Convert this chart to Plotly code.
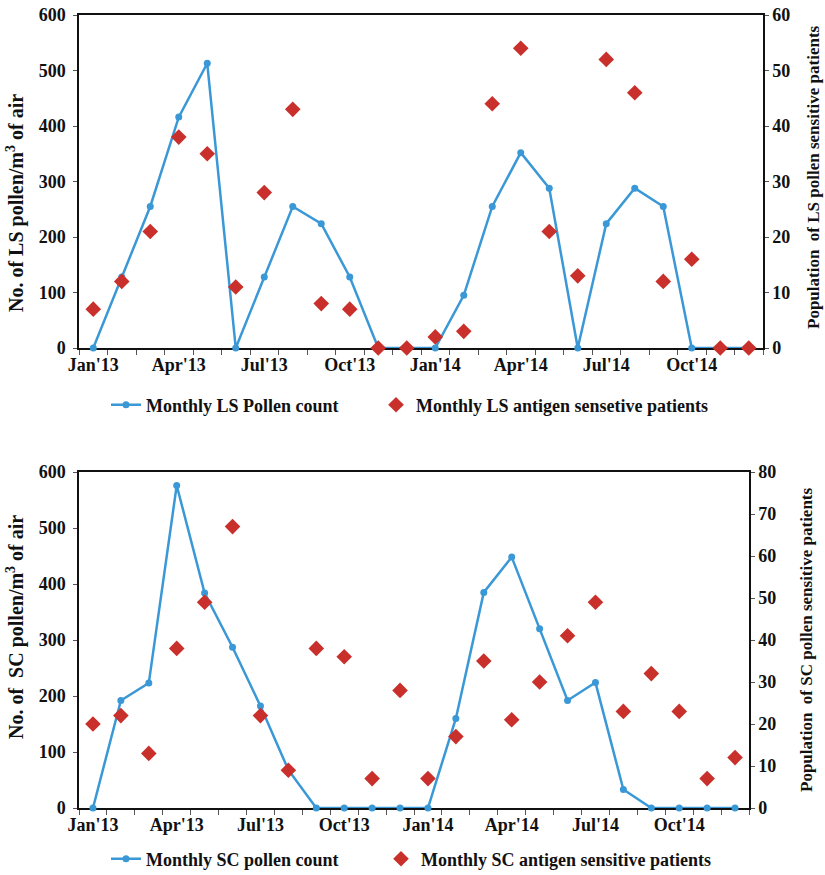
import plotly.graph_objects as go

# Monthly series, Jan 2013 - Dec 2014
months = ["Jan'13", "Feb'13", "Mar'13", "Apr'13", "May'13", "Jun'13",
          "Jul'13", "Aug'13", "Sep'13", "Oct'13", "Nov'13", "Dec'13",
          "Jan'14", "Feb'14", "Mar'14", "Apr'14", "May'14", "Jun'14",
          "Jul'14", "Aug'14", "Sep'14", "Oct'14", "Nov'14", "Dec'14"]

ls_pollen = [0, 128, 255, 416, 513, 0, 128, 255, 224, 128, 0, 0,
             0, 95, 255, 352, 288, 0, 224, 288, 255, 0, 0, 0]
ls_patients = [7, 12, 21, 38, 35, 11, 28, 43, 8, 7, 0, 0,
               2, 3, 44, 54, 21, 13, 52, 46, 12, 16, 0, 0]

sc_pollen = [0, 192, 223, 576, 384, 287, 182, 68, 0, 0, 0, 0,
             0, 160, 385, 448, 320, 192, 224, 33, 0, 0, 0, 0]
sc_patients = [20, 22, 13, 38, 49, 67, 22, 9, 38, 36, 7, 28,
               7, 17, 35, 21, 30, 41, 49, 23, 32, 23, 7, 12]

tick_idx = [0, 3, 6, 9, 12, 15, 18, 21]
tick_text = [months[i] for i in tick_idx]

W, H = 825, 875
BLUE = "#3a98d6"
RED = "#c9302c"
INK = "#111111"
FONT = "Liberation Serif"

x = list(range(len(months)))


def fx(px):
    return px / W


def fy(py):
    return 1 - py / H


fig = go.Figure()

fig.add_trace(go.Scatter(
    x=x, y=ls_pollen, name="Monthly LS Pollen count", mode="lines+markers",
    line=dict(color=BLUE, width=2.5), marker=dict(color=BLUE, size=7),
    cliponaxis=False, xaxis="x", yaxis="y", legend="legend"))
fig.add_trace(go.Scatter(
    x=x, y=ls_patients, name="Monthly LS antigen sensetive patients", mode="markers",
    marker=dict(color=RED, size=12, symbol="diamond"),
    cliponaxis=False, xaxis="x", yaxis="y2", legend="legend2"))
fig.add_trace(go.Scatter(
    x=x, y=sc_pollen, name="Monthly SC pollen count", mode="lines+markers",
    line=dict(color=BLUE, width=2.5), marker=dict(color=BLUE, size=7),
    cliponaxis=False, xaxis="x2", yaxis="y3", legend="legend3"))
fig.add_trace(go.Scatter(
    x=x, y=sc_patients, name="Monthly SC antigen sensitive patients", mode="markers",
    marker=dict(color=RED, size=12, symbol="diamond"),
    cliponaxis=False, xaxis="x2", yaxis="y4", legend="legend4"))

tick_font = dict(family=FONT, size=18, color=INK, weight="bold")
legend_font = dict(family=FONT, size=18, color=INK, weight="bold")

xcommon = dict(
    range=[-0.5, 23.5], tickmode="array", tickvals=tick_idx, ticktext=tick_text,
    ticks="", showgrid=False, zeroline=False, showline=True, linecolor=INK,
    linewidth=1.5, mirror=True, tickfont=tick_font, layer="below traces",
    minor=dict(tickmode="linear", tick0=-0.5, dtick=1, ticks="outside",
               ticklen=5, tickcolor="#555555", tickwidth=1, showgrid=False),
    fixedrange=True,
)
ycommon = dict(
    showgrid=False, zeroline=False, showline=True, linecolor=INK, linewidth=1.5,
    ticks="outside", ticklen=4, tickcolor="#555555", tickfont=tick_font,
    layer="below traces", fixedrange=True,
)

fig.update_layout(
    width=W, height=H,
    margin=dict(l=0, r=0, t=0, b=0, autoexpand=False),
    paper_bgcolor="white", plot_bgcolor="white",
    font=dict(family=FONT, color=INK),
    xaxis=dict(domain=[fx(79), fx(763)], anchor="y", **xcommon),
    xaxis2=dict(domain=[fx(79), fx(749)], anchor="y3", **xcommon),
    yaxis=dict(domain=[fy(348), fy(15)], anchor="x", range=[0, 600], dtick=100,
               ticklabelstandoff=4, **ycommon),
    yaxis2=dict(overlaying="y", anchor="x", side="right", range=[0, 60], dtick=10,
                **ycommon),
    yaxis3=dict(domain=[fy(808), fy(472)], anchor="x2", range=[0, 600], dtick=100,
                ticklabelstandoff=4, **ycommon),
    yaxis4=dict(overlaying="y3", anchor="x2", side="right", range=[0, 80], dtick=10,
                **ycommon),
    showlegend=True,
)

# one legend per entry so each key sits where it belongs under its panel
legend_spots = {"legend": (106, 405), "legend2": (376, 405),
                "legend3": (106, 859), "legend4": (381, 859)}
for key, (lx, ly) in legend_spots.items():
    fig.update_layout({key: dict(orientation="h", x=fx(lx), xanchor="left",
                                 y=fy(ly), yanchor="middle", font=legend_font,
                                 bgcolor="rgba(0,0,0,0)")})

# axis titles
axis_titles = [
    ("No. of LS pollen/m<sup>3</sup> of air", 15, 203, 20),
    ("Population &nbsp;of LS pollen sensitive patients", 813, 177, 17),
    ("No. of &nbsp;SC pollen/m<sup>3</sup> of air", 15, 627, 20),
    ("Population &nbsp;of SC pollen sensitive patients", 806, 640, 17),
]
for text, cx, cy, size in axis_titles:
    fig.add_annotation(
        text=text, x=fx(cx), y=fy(cy), xref="paper", yref="paper",
        xanchor="center", yanchor="middle", textangle=-90, showarrow=False,
        font=dict(family=FONT, size=size, color=INK, weight="bold"))

fig.write_html("out.html")
